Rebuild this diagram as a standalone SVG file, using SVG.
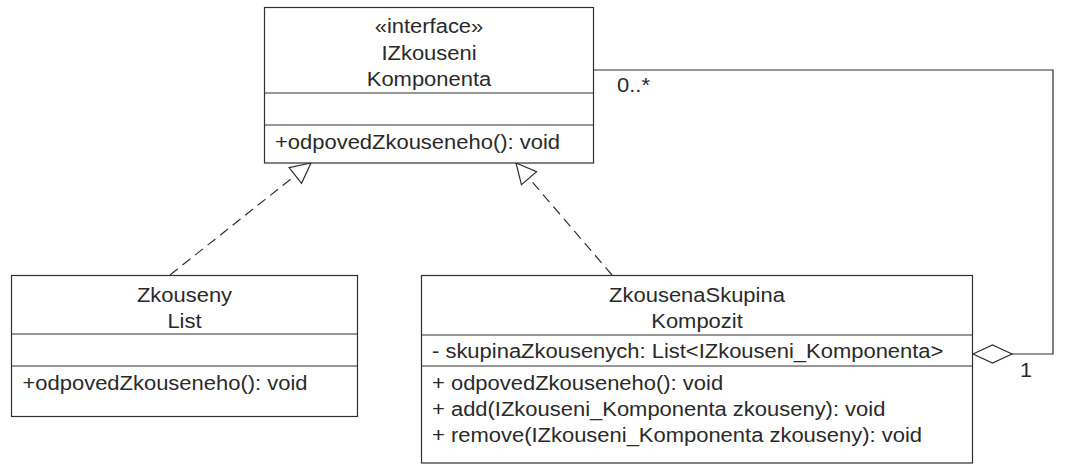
<svg xmlns="http://www.w3.org/2000/svg" width="1076" height="476" viewBox="0 0 1076 476">
<style>
.box{fill:#fff;stroke:#303030;stroke-width:1.2}
.sep{stroke:#303030;stroke-width:1.2;fill:none}
text{font-family:"Liberation Sans",Arial,sans-serif;font-size:19.5px;fill:#2a2a2a}
.c{text-anchor:middle}
.conn{fill:none;stroke:#303030;stroke-width:1.2}
.dash{stroke-dasharray:10 6}
</style>
<defs>
<marker id="tri" markerUnits="userSpaceOnUse" markerWidth="24" markerHeight="24" refX="20" refY="10" orient="auto" overflow="visible">
<path d="M0,0 L20,10 L0,20 Z" fill="#fff" stroke="#303030" stroke-width="1.2"/>
</marker>
<marker id="dia" markerUnits="userSpaceOnUse" markerWidth="42" markerHeight="20" refX="0" refY="9" orient="auto" overflow="visible">
<path d="M0,9 L19.5,0 L39,9 L19.5,18 Z" fill="#fff" stroke="#303030" stroke-width="1.2"/>
</marker>
</defs>
<rect width="1076" height="476" fill="#fff"/>
<g id="connectors">
<path class="conn dash" d="M170,275 L311,163" marker-end="url(#tri)"/>
<path class="conn dash" d="M612,275 L516,163" marker-end="url(#tri)"/>
<path class="conn" d="M973,354 H1053 V70 H594" marker-start="url(#dia)"/>
<text x="617" y="92" textLength="33" lengthAdjust="spacingAndGlyphs">0..*</text>
<text x="1020" y="377" textLength="12" lengthAdjust="spacingAndGlyphs">1</text>
</g>
<g id="IZkouseniKomponenta">
<rect class="box" x="264.5" y="7.5" width="329" height="155.5"/>
<line class="sep" x1="264.5" y1="93" x2="593.5" y2="93"/>
<line class="sep" x1="264.5" y1="125" x2="593.5" y2="125"/>
<text class="c" x="429" y="33" textLength="108.6" lengthAdjust="spacingAndGlyphs">«interface»</text>
<text class="c" x="429" y="60" textLength="95.2" lengthAdjust="spacingAndGlyphs">IZkouseni</text>
<text class="c" x="429" y="86" textLength="124.5" lengthAdjust="spacingAndGlyphs">Komponenta</text>
<text x="275" y="149" textLength="285" lengthAdjust="spacingAndGlyphs">+odpovedZkouseneho(): void</text>
</g>
<g id="ZkousenyList">
<rect class="box" x="11.5" y="275.5" width="346" height="141"/>
<line class="sep" x1="11.5" y1="334" x2="357.5" y2="334"/>
<line class="sep" x1="11.5" y1="366" x2="357.5" y2="366"/>
<text class="c" x="184.5" y="302" textLength="95.2" lengthAdjust="spacingAndGlyphs">Zkouseny</text>
<text class="c" x="184.5" y="328" textLength="34.2" lengthAdjust="spacingAndGlyphs">List</text>
<text x="22.5" y="390" textLength="285" lengthAdjust="spacingAndGlyphs">+odpovedZkouseneho(): void</text>
</g>
<g id="ZkousenaSkupinaKompozit">
<rect class="box" x="421.5" y="275.5" width="551" height="187.5"/>
<line class="sep" x1="421.5" y1="335" x2="972.5" y2="335"/>
<line class="sep" x1="421.5" y1="366" x2="972.5" y2="366"/>
<text class="c" x="697" y="302" textLength="175.8" lengthAdjust="spacingAndGlyphs">ZkousenaSkupina</text>
<text class="c" x="697" y="328" textLength="91.5" lengthAdjust="spacingAndGlyphs">Kompozit</text>
<text x="432" y="358" textLength="511.4" lengthAdjust="spacingAndGlyphs">- skupinaZkousenych: List&lt;IZkouseni_Komponenta&gt;</text>
<text x="432" y="390" textLength="291.1" lengthAdjust="spacingAndGlyphs">+ odpovedZkouseneho(): void</text>
<text x="432" y="416" textLength="453.4" lengthAdjust="spacingAndGlyphs">+ add(IZkouseni_Komponenta zkouseny): void</text>
<text x="432" y="442" textLength="490" lengthAdjust="spacingAndGlyphs">+ remove(IZkouseni_Komponenta zkouseny): void</text>
</g>
</svg>
